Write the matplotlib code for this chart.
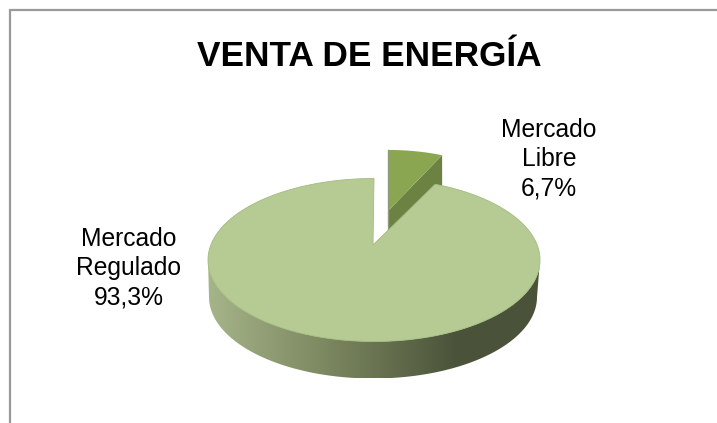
"""Pie 3D de venta de energia, dibujado en coordenadas de pixel"""
import numpy as np
from matplotlib import pyplot as plt
from matplotlib.colors import LinearSegmentedColormap
from matplotlib.patches import Polygon

plt.rcParams['font.family'] = ['Liberation Sans', 'DejaVu Sans']

title = 'VENTA DE ENERGÍA'
labels = ['Mercado\nRegulado\n93,3%', 'Mercado\nLibre\n6,7%']
values = [93.3, 6.7]

W, H = 717, 423
# main disc geometry, pixels
cx, cy, rx, ry, depth = 374, 260, 166, 81.5, 37
apex_y = 245
# pulled out slice geometry
sx, sy, srx, sry, sdepth = 389, 210, 130, 60, 40


def arc(x0, y0, a, b, t0, t1, n=200):
    # angles clockwise from 12 o'clock
    t = np.radians(np.linspace(t0, t1, n))
    return np.column_stack([x0 + a * np.sin(t), y0 - b * np.cos(t)])


fig = plt.figure(figsize=(W / 100, H / 100), dpi=100)
ax = fig.add_axes([0, 0, 1, 1])
ax.set_xlim(0, W)
ax.set_ylim(H, 0)
ax.axis('off')

# chart frame, cut off on the right and at the bottom like the source
ax.plot([9.5, 9.5, 717], [423, 10.5, 10.5], color='#9a9a9a', lw=1.6, solid_joinstyle='miter')

slice_angle = 360 * values[1] / sum(values)

# ===== pulled out slice =====
slice_arc = arc(sx, sy, srx, sry, 0, slice_angle, 30)
end = slice_arc[-1]
ax.add_patch(Polygon([(sx, sy), end, end + (0, sdepth), (sx, sy + sdepth)], fc='#6c8243', ec='none', zorder=2))
ax.add_patch(Polygon(np.vstack([[(sx, sy)], slice_arc]), fc='#8aa651', ec='none', zorder=3))
ax.plot([sx - 1, sx - 1], [sy - sry, sy + 20], color='#8f9a80', lw=1, zorder=3)

# ===== side of the main disc =====
front = arc(cx, cy, rx, ry, 90, 270)
back = arc(cx - 1, cy + depth, rx - 2, ry, 270, 90)
side = Polygon(np.vstack([front, back]), fc='none', ec='none', zorder=4)
ax.add_patch(side)
side_cmap = LinearSegmentedColormap.from_list('side', [(0, '#a6b48a'), (0.33, '#7f8b63'), (0.75, '#4a5339'), (1, '#4a5339')])
img = ax.imshow(np.linspace(0, 1, 256)[None, :], extent=(cx - rx, cx + rx, cy + depth + ry, cy), cmap=side_cmap,
                aspect='auto', zorder=4)
img.set_clip_path(side)
ax.set_xlim(0, W)
ax.set_ylim(H, 0)

# ===== top of the main disc =====
top_arc = arc(cx, cy, rx, ry, slice_angle - 2.5, 360)
ax.add_patch(Polygon(np.vstack([[(cx - 1, apex_y)], top_arc]), fc='#b6cb93', ec='#a3bb80', lw=0.6, zorder=5))

ax.text(369, 56, title, fontsize=25.4, fontweight='bold', ha='center', va='center', color='black')
ax.text(129, 268, labels[0], fontsize=17.7, ha='center', va='center', linespacing=1.28, color='black')
ax.text(549, 159, labels[1], fontsize=17.7, ha='center', va='center', linespacing=1.28, color='black', zorder=6)

fig.savefig('out.png', dpi=100)
